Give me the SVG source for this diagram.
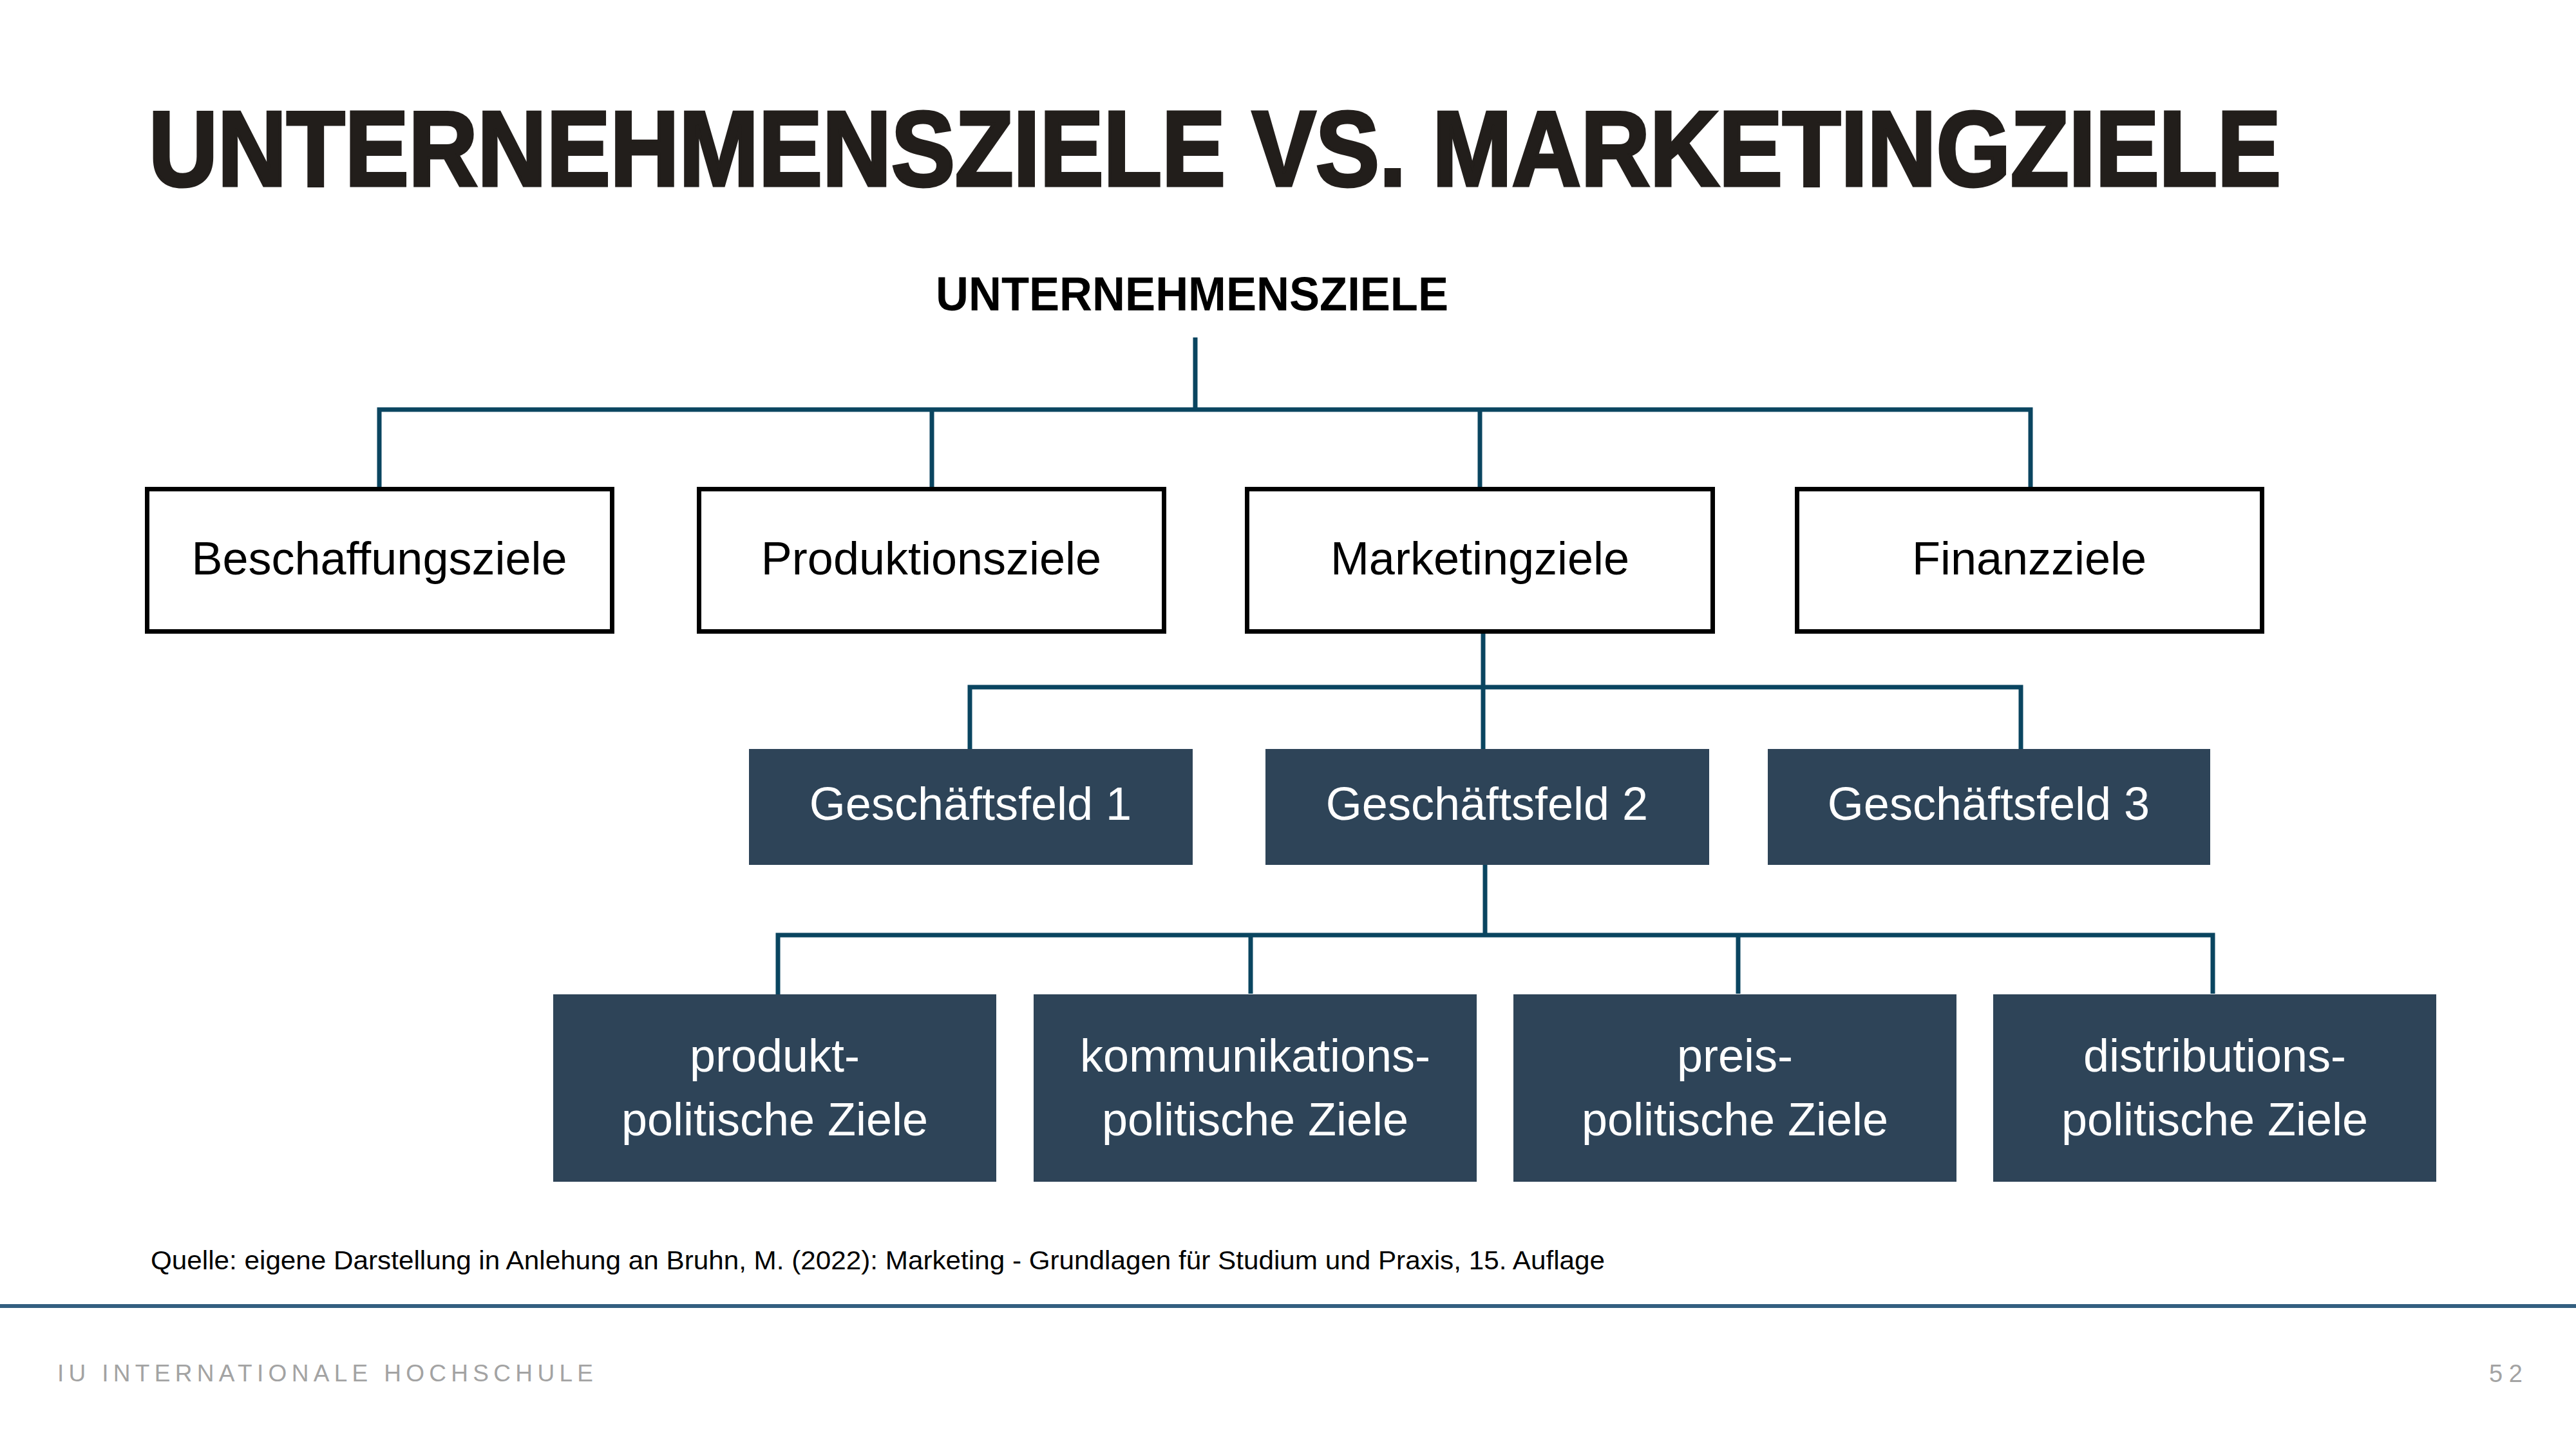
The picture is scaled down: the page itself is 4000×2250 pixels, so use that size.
<svg xmlns="http://www.w3.org/2000/svg" width="4000" height="2250" viewBox="0 0 4000 2250">
<style>
.title{font-family:"Liberation Sans",Arial,sans-serif;font-weight:bold;fill:#221e1b}
.sub{font-family:"Liberation Sans",Arial,sans-serif;font-weight:bold;fill:#000}
.lbl{font-family:"Liberation Sans",Arial,sans-serif;font-size:72px;text-anchor:middle}
.dark{fill:#000}
.light{fill:#fff}
.obox{fill:#fff;stroke:#000;stroke-width:7}
.fbox{fill:#2e4458}
.conn{fill:none;stroke:#0a4560;stroke-width:7}
.foot{font-family:"Liberation Sans",Arial,sans-serif;fill:#a3a3a3}
</style>
<rect width="4000" height="2250" fill="#fff"/>
<text class="title" x="231" y="288" font-size="166" textLength="3311" lengthAdjust="spacingAndGlyphs" stroke="#221e1b" stroke-width="5">UNTERNEHMENSZIELE VS. MARKETINGZIELE</text>
<text class="sub" x="1453" y="482" font-size="75" textLength="796" lengthAdjust="spacingAndGlyphs">UNTERNEHMENSZIELE</text>
<g id="connectors">
<path class="conn" d="M1856 524V636M589 757V636H3153V757M1447 636V757M2298 636V757"/>
<path class="conn" d="M2303 984V1163M1506 1163V1067H3138V1177"/>
<path class="conn" d="M2306 1343V1452M1208 1552V1452H3436V1543M1942 1452V1543M2699 1452V1543"/>
</g>
<g id="n-beschaffung"><rect class="obox" x="228.5" y="759.5" width="722" height="221"/><text class="lbl dark" x="589" y="892">Beschaffungsziele</text></g>
<g id="n-produktion"><rect class="obox" x="1085.5" y="759.5" width="722" height="221"/><text class="lbl dark" x="1446" y="892">Produktionsziele</text></g>
<g id="n-marketing"><rect class="obox" x="1936.5" y="759.5" width="723" height="221"/><text class="lbl dark" x="2298" y="892">Marketingziele</text></g>
<g id="n-finanz"><rect class="obox" x="2790.5" y="759.5" width="722" height="221"/><text class="lbl dark" x="3151" y="892">Finanzziele</text></g>
<g id="n-gf1"><rect class="fbox" x="1163" y="1163" width="689" height="180"/><text class="lbl light" x="1507" y="1273">Geschäftsfeld 1</text></g>
<g id="n-gf2"><rect class="fbox" x="1965" y="1163" width="689" height="180"/><text class="lbl light" x="2309" y="1273">Geschäftsfeld 2</text></g>
<g id="n-gf3"><rect class="fbox" x="2745" y="1163" width="687" height="180"/><text class="lbl light" x="3088" y="1273">Geschäftsfeld 3</text></g>
<g id="n-produkt"><rect class="fbox" x="859" y="1544" width="688" height="291"/><text class="lbl light" x="1203" y="1664">produkt-</text><text class="lbl light" x="1203" y="1763">politische Ziele</text></g>
<g id="n-kommunikation"><rect class="fbox" x="1605" y="1544" width="688" height="291"/><text class="lbl light" x="1949" y="1664">kommunikations-</text><text class="lbl light" x="1949" y="1763">politische Ziele</text></g>
<g id="n-preis"><rect class="fbox" x="2350" y="1544" width="688" height="291"/><text class="lbl light" x="2694" y="1664">preis-</text><text class="lbl light" x="2694" y="1763">politische Ziele</text></g>
<g id="n-distribution"><rect class="fbox" x="3095" y="1544" width="688" height="291"/><text class="lbl light" x="3439" y="1664">distributions-</text><text class="lbl light" x="3439" y="1763">politische Ziele</text></g>
<text x="234" y="1971" font-family="Liberation Sans,Arial,sans-serif" font-size="41" fill="#000" textLength="2258" lengthAdjust="spacingAndGlyphs">Quelle: eigene Darstellung in Anlehung an Bruhn, M. (2022): Marketing - Grundlagen für Studium und Praxis, 15. Auflage</text>
<rect x="0" y="2025" width="4000" height="6" fill="#335f80"/>
<text class="foot" x="89" y="2145" font-size="37" textLength="832" lengthAdjust="spacing">IU INTERNATIONALE HOCHSCHULE</text>
<text class="foot" x="3865" y="2146" font-size="38" textLength="52" lengthAdjust="spacing">52</text>
</svg>
